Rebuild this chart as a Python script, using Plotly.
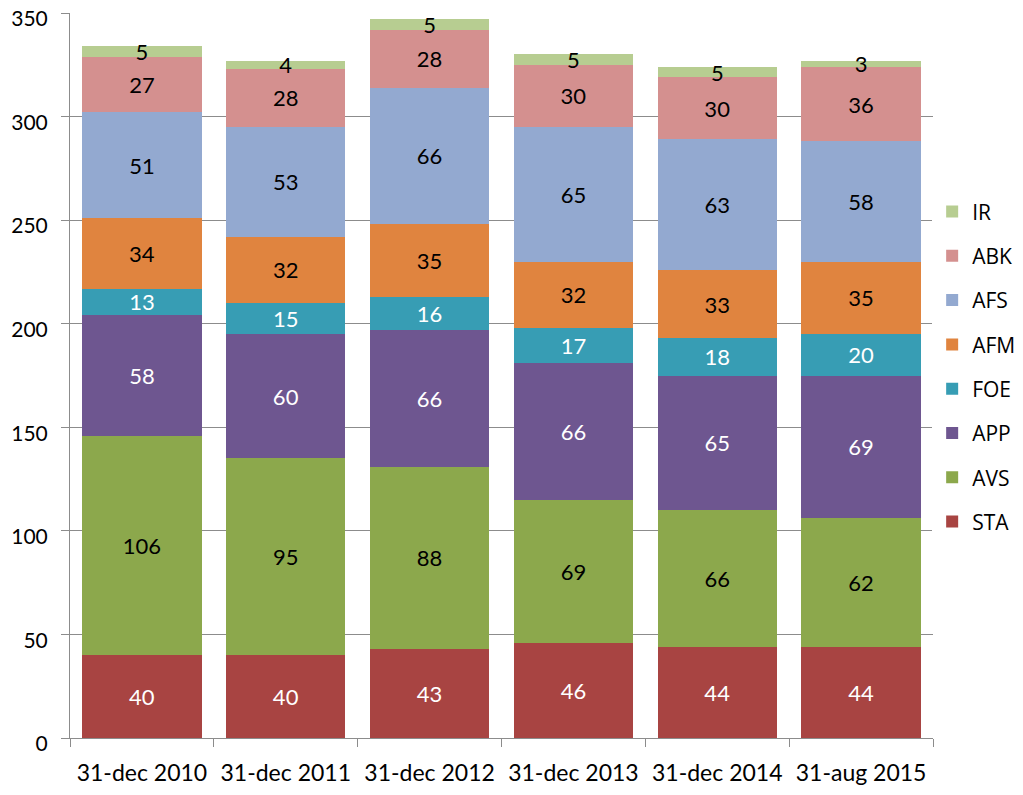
import plotly.graph_objects as go

categories = ["31-dec 2010", "31-dec 2011", "31-dec 2012", "31-dec 2013", "31-dec 2014", "31-aug 2015"]
STA = [40, 40, 43, 46, 44, 44]
AVS = [106, 95, 88, 69, 66, 62]
APP = [58, 60, 66, 66, 65, 69]
FOE = [13, 15, 16, 17, 18, 20]
AFM = [34, 32, 35, 32, 33, 35]
AFS = [51, 53, 66, 65, 63, 58]
ABK = [27, 28, 28, 30, 30, 36]
IR = [5, 4, 5, 5, 5, 3]

series = [
    ("STA", STA, "#A84442", "white"),
    ("AVS", AVS, "#8CA84C", "black"),
    ("APP", APP, "#6E5690", "white"),
    ("FOE", FOE, "#379DB4", "white"),
    ("AFM", AFM, "#E0843F", "black"),
    ("AFS", AFS, "#93A9D0", "black"),
    ("ABK", ABK, "#D4908F", "black"),
    ("IR", IR, "#B7CD91", "black"),
]

fig = go.Figure()
for i, (name, vals, color, tcolor) in enumerate(series):
    fig.add_trace(go.Bar(
        x=categories, y=vals, name=name, legendgroup=name,
        legendrank=100 - i,
        marker=dict(color=color, line=dict(width=0)),
        text=[str(v) for v in vals], textposition="inside",
        insidetextanchor="middle", textangle=0,
        textfont=dict(color=tcolor, size=22, family="Lato"),
        hoverinfo="x+y+name",
    ))

# page body has an 8px margin, so the figure is sized to fill the rest of the window
W, H = 1015, 787
L, R, T, B = 62, 90, 5, 57
pw, ph = W - L - R, H - T - B

fig.update_layout(
    width=W, height=H,
    barmode="stack", bargap=0.17,
    margin=dict(l=L, r=R, t=T, b=B, autoexpand=False),
    paper_bgcolor="white", plot_bgcolor="white",
    uniformtext=dict(minsize=22, mode="show"),
    font=dict(family="Lato", size=22, color="black"),
    legend=dict(
        xref="container", yref="container",
        x=0.9105, y=0.767, xanchor="left", yanchor="top",
        traceorder="grouped", tracegroupgap=14,
        font=dict(family="Open Sans", size=21, color="black"),
        itemwidth=30,
    ),
    xaxis=dict(
        automargin=False,
        showline=True, linecolor="#8c8c8c", linewidth=1,
        ticks="outside", tickson="boundaries", ticklen=8, tickcolor="#8c8c8c",
        ticklabelstandoff=14,
        tickfont=dict(family="Lato", size=23), showgrid=False,
    ),
    yaxis=dict(
        automargin=False,
        range=[0, 350], dtick=50, showgrid=True, gridcolor="#8c8c8c", gridwidth=1,
        showline=True, linecolor="#8c8c8c", linewidth=1,
        ticks="outside", ticklen=8, tickcolor="#8c8c8c",
        ticklabelstandoff=9, ticklabelshift=6, ticklabeloverflow="allow",
        tickfont=dict(family="Lato", size=21), zeroline=False,
    ),
)

fig.write_html("out.html")
